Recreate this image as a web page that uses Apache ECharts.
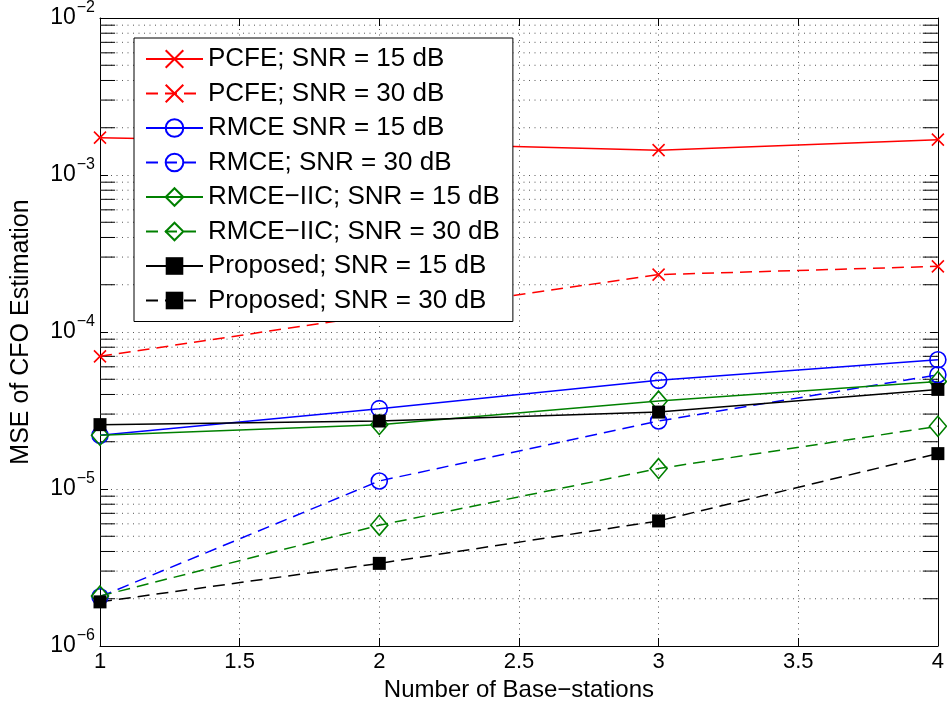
<!DOCTYPE html>
<html><head><meta charset="utf-8">
<script src="https://cdn.jsdelivr.net/npm/echarts@6/dist/echarts.min.js"></script>
<style>html,body{margin:0;padding:0;background:#fff}#c{width:947px;height:711px}</style>
</head><body><div id="c"></div>
<script>
// ---- data ----
const baseStations = [1, 2, 3, 4];
const xTickStep = 0.5;
const yMin = 1e-6, yMax = 1e-2;
const yMinorValues = [
  2e-6, 3e-6, 4e-6, 5e-6, 6e-6, 7e-6, 8e-6, 9e-6,
  2e-5, 3e-5, 4e-5, 5e-5, 6e-5, 7e-5, 8e-5, 9e-5,
  2e-4, 3e-4, 4e-4, 5e-4, 6e-4, 7e-4, 8e-4, 9e-4,
  2e-3, 3e-3, 4e-3, 5e-3, 6e-3, 7e-3, 8e-3, 9e-3
];
const seriesNames = [
  'PCFE; SNR = 15 dB', 'PCFE; SNR = 30 dB',
  'RMCE SNR = 15 dB', 'RMCE; SNR = 30 dB',
  'RMCE\u2212IIC; SNR = 15 dB', 'RMCE\u2212IIC; SNR = 30 dB',
  'Proposed; SNR = 15 dB', 'Proposed; SNR = 30 dB'
];
const pcfe15 = [1.73e-3, 1.60e-3, 1.44e-3, 1.68e-3];
const pcfe30 = [7.0e-5, 1.29e-4, 2.32e-4, 2.62e-4];
const rmce15 = [2.20e-5, 3.25e-5, 4.92e-5, 6.65e-5];
const rmce30 = [2.06e-6, 1.125e-5, 2.71e-5, 5.34e-5];
const iic15 = [2.20e-5, 2.57e-5, 3.63e-5, 4.84e-5];
const iic30 = [2.08e-6, 5.88e-6, 1.35e-5, 2.51e-5];
const prop15 = [2.57e-5, 2.71e-5, 3.09e-5, 4.31e-5];
const prop30 = [1.91e-6, 3.36e-6, 6.26e-6, 1.68e-5];

// ---- styling ----
const FONT = 'Liberation Sans';
const RED = '#ff0000', BLUE = '#0000ff', GREEN = '#008000', BLACK = '#000000';
const DASH = [12, 7];
const CROSS = 'path://M0,0L10,10M10,0L0,10';

function pairs(vals) { return baseStations.map((x, i) => [x, vals[i]]); }

function mkSeries(name, vals, color, dashed, symbol, size, filled) {
  return {
    type: 'line', name: name, data: pairs(vals),
    symbol: symbol, symbolSize: size, showSymbol: true,
    lineStyle: { color: color, width: 1.5, type: dashed ? DASH : 'solid' },
    itemStyle: {
      color: filled ? color : 'rgba(0,0,0,0)',
      borderColor: color, borderWidth: filled ? 0 : 1.6
    },
    emphasis: { disabled: true },
    animation: false, z: 3
  };
}

const dotted = { color: '#555', width: 1, type: [1, 4.5] };

function expLabel(v) {
  const e = Math.round(Math.log10(v));
  return '{b|10}{s|' + (e < 0 ? '\u2212' : '') + Math.abs(e) + '}';
}

const xLo = baseStations[0], xHi = baseStations[baseStations.length - 1];
const tickLen = (xHi - xLo) * 0.018;

// helper line series built from segments (gaps via '-')
function segSeries(name, z, lineStyle, segs) {
  const data = [];
  segs.forEach(s => { data.push([s[0], s[2]], [s[1], s[2]], [s[1], '-']); });
  return {
    type: 'line', name: name, data: data, z: z, silent: true, symbol: 'none',
    showSymbol: false, connectNulls: false, lineStyle: lineStyle,
    emphasis: { disabled: true }, animation: false, tooltip: { show: false }
  };
}

const chart = echarts.init(document.getElementById('c'));
chart.setOption({
  animation: false,
  textStyle: { fontFamily: FONT, color: '#000' },
  grid: { left: 100, right: 6, top: 17, bottom: 65, containLabel: false },
  legend: {
    data: seriesNames, orient: 'vertical', left: 134, top: 38,
    padding: [8, 13, 8, 11], itemWidth: 57, itemHeight: 22, itemGap: 8.5,
    backgroundColor: '#fff', borderColor: '#000', borderWidth: 1, borderRadius: 0,
    textStyle: { fontSize: 26, fontFamily: FONT, color: '#000', lineHeight: 24 },
    selectedMode: false, z: 10
  },
  xAxis: [{
    type: 'value', min: 1, max: 4, interval: xTickStep, position: 'bottom',
    name: 'Number of Base\u2212stations', nameLocation: 'middle', nameGap: 26,
    nameTextStyle: { fontSize: 24, fontFamily: FONT, color: '#000' },
    axisLine: { show: true, lineStyle: { color: '#000', width: 1 } },
    axisTick: { show: true, inside: true, length: 8, lineStyle: { color: '#000' } },
    axisLabel: { fontSize: 22, margin: 5, color: '#000', fontFamily: FONT },
    splitLine: { show: true, lineStyle: dotted }
  }, {
    type: 'value', min: 1, max: 4, interval: xTickStep, position: 'top',
    axisLine: { show: true, lineStyle: { color: '#000', width: 1 } },
    axisTick: { show: true, inside: true, length: 8, lineStyle: { color: '#000' } },
    axisLabel: { show: false }, splitLine: { show: false }
  }],
  yAxis: [{
    type: 'log', logBase: 10, min: yMin, max: yMax, position: 'left',
    name: 'MSE of CFO Estimation', nameLocation: 'middle', nameGap: 66,
    nameTextStyle: { fontSize: 25, fontFamily: FONT, color: '#000' },
    axisLine: { show: true, lineStyle: { color: '#000', width: 1 } },
    axisTick: { show: true, inside: true, length: 8, lineStyle: { color: '#000' } },
    axisLabel: {
      margin: 5, formatter: expLabel,
      rich: {
        b: { fontSize: 23, fontFamily: FONT, color: '#000' },
        s: { fontSize: 16, fontFamily: FONT, color: '#000', padding: [0, 0, 20, 1] }
      }
    },
    splitLine: { show: true, lineStyle: dotted }
  }, {
    type: 'log', logBase: 10, min: yMin, max: yMax, position: 'right',
    axisLine: { show: true, lineStyle: { color: '#000', width: 1 } },
    axisTick: { show: true, inside: true, length: 8, lineStyle: { color: '#000' } },
    axisLabel: { show: false }, splitLine: { show: false }
  }],
  series: [
    segSeries('_minorGrid', 1, dotted, yMinorValues.map(v => [xLo, xHi, v])),
    segSeries('_minorTicks', 2, { color: '#000', width: 1, type: 'solid' },
      yMinorValues.map(v => [xLo, xLo + tickLen, v])
        .concat(yMinorValues.map(v => [xHi - tickLen, xHi, v]))),
    mkSeries(seriesNames[0], pcfe15, RED, false, CROSS, 12, false),
    mkSeries(seriesNames[1], pcfe30, RED, true, CROSS, 12, false),
    mkSeries(seriesNames[2], rmce15, BLUE, false, 'circle', 16, false),
    mkSeries(seriesNames[3], rmce30, BLUE, true, 'circle', 16, false),
    mkSeries(seriesNames[4], iic15, GREEN, false, 'diamond', [17, 20], false),
    mkSeries(seriesNames[5], iic30, GREEN, true, 'diamond', [17, 20], false),
    mkSeries(seriesNames[6], prop15, BLACK, false, 'rect', 13, true),
    mkSeries(seriesNames[7], prop30, BLACK, true, 'rect', 13, true)
  ]
});
</script>
</body></html>
